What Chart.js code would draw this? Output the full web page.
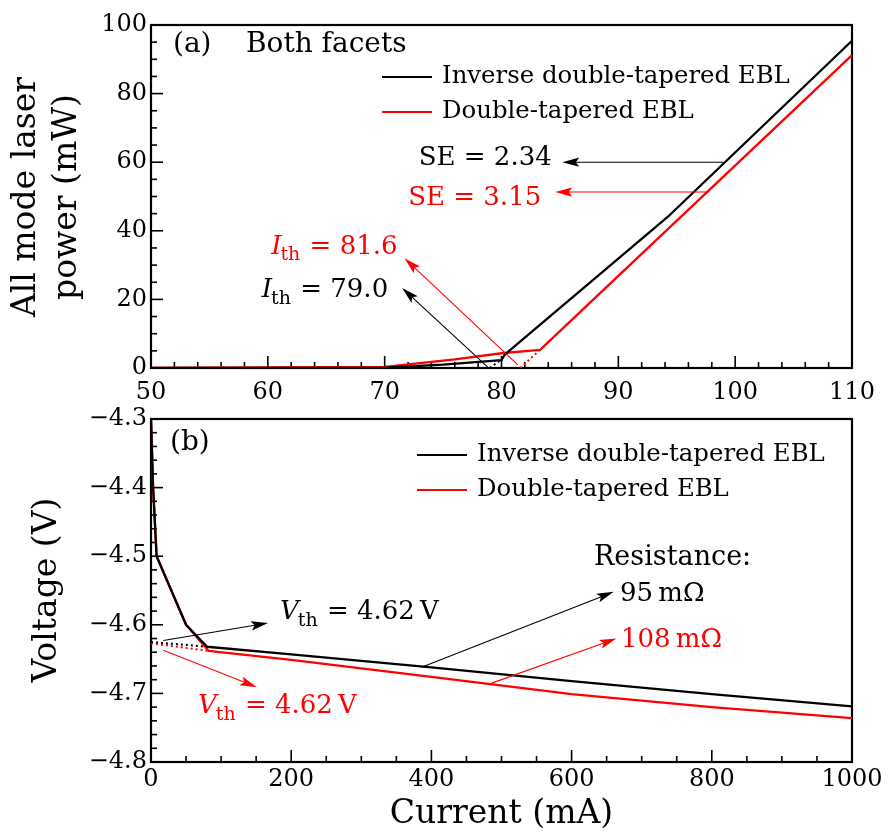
<!DOCTYPE html>
<html><head><meta charset="utf-8">
<script src="https://cdn.jsdelivr.net/npm/chart.js@4.4.1/dist/chart.umd.min.js"></script>
<style>
html,body{margin:0;padding:0;background:#fff;}
#wrap{position:relative;width:892px;height:838px;background:#fff;}
canvas{position:absolute;left:0;top:0;}
</style></head><body>
<div id="wrap"><canvas id="cb" width="892" height="838"></canvas><canvas id="ca" width="892" height="410"></canvas></div>
<script>
// ---------- data: panel (a) ----------
const seriesNames = ['Inverse double-tapered EBL', 'Double-tapered EBL'];
const aCurrentInverse = [50, 70, 75, 80, 80.3, 94.4, 110];
const aPowerInverse   = [0, 0.1, 1.0, 2.3, 4.0, 44.6, 95.4];
const aCurrentDouble  = [50, 70, 76, 80, 83.3, 110];
const aPowerDouble    = [0, 0.3, 2.5, 4.3, 5.3, 91.2];
const aFitCurrentInverse = [79.0, 80.0];
const aFitPowerInverse   = [0, 2.5];
const aFitCurrentDouble  = [81.6, 83.3];
const aFitPowerDouble    = [0, 5.3];
const aArrowsInverse = [[78.8, 0.3, 71.5, 23.3], [99.0, 60.0, 85.2, 60.0]];
const aArrowsDouble  = [[81.4, 0.9, 71.7, 32.0], [97.8, 51.3, 84.6, 51.3]];
const aThreshold = ['79.0', '81.6'];
const aSlope = ['2.34', '3.15'];

// ---------- data: panel (b) ----------
const bCurrentInverse = [0, 3, 8, 50, 80, 200, 400, 600, 800, 1000];
const bVoltInverse    = [-4.30, -4.40, -4.50, -4.60, -4.632, -4.643, -4.662, -4.682, -4.701, -4.719];
const bCurrentDouble  = [0, 3, 8, 50, 82, 200, 400, 600, 800, 1000];
const bVoltDouble     = [-4.30, -4.40, -4.50, -4.60, -4.638, -4.651, -4.676, -4.701, -4.720, -4.736];
const bFitCurrentInverse = [0, 80];
const bFitVoltInverse    = [-4.625, -4.632];
const bFitCurrentDouble  = [0, 82];
const bFitVoltDouble     = [-4.627, -4.638];
const bArrowsInverse = [[17.5, -4.623, 167, -4.5975], [386, -4.662, 660, -4.552]];
const bArrowsDouble  = [[17.5, -4.637, 151, -4.691], [486, -4.685, 664, -4.620]];
const bThreshold = ['4.62', '4.62'];
const bResistance = ['95', '108'];

// ---------- styling ----------
const FAM = "'DejaVu Serif'";
const BLACK = '#000000', RED = '#ff0000';
Chart.defaults.font.family = FAM;
Chart.defaults.color = '#000';
Chart.defaults.animation = false;

function pts(xs, ys) { return xs.map((x, i) => ({x: x, y: ys[i]})); }
function ds(xs, ys, color, width, dash) {
  return {data: pts(xs, ys), borderColor: color, borderWidth: width, borderDash: dash || [],
          pointRadius: 0, fill: false, tension: 0, borderJoinStyle: 'round'};
}

function drawFrameAndTicks(chart, xMajor, xMinor, yMajor, yMinor) {
  const {ctx, chartArea: {left, right, top, bottom}, scales: {x, y}} = chart;
  ctx.save();
  ctx.strokeStyle = '#000';
  ctx.lineWidth = 1.6;
  const nx = Math.round((x.max - x.min) / xMinor), kx = Math.round(xMajor / xMinor);
  for (let i = 0; i <= nx; i++) {
    const px = x.getPixelForValue(x.min + i * xMinor);
    const L = (i % kx === 0) ? 12 : 6;
    ctx.beginPath(); ctx.moveTo(px, bottom); ctx.lineTo(px, bottom - L); ctx.stroke();
  }
  const ny = Math.round((y.max - y.min) / yMinor), ky = Math.round(yMajor / yMinor);
  for (let i = 0; i <= ny; i++) {
    const py = y.getPixelForValue(y.min + i * yMinor);
    const L = (i % ky === 0) ? 12 : 6;
    ctx.beginPath(); ctx.moveTo(left, py); ctx.lineTo(left + L, py); ctx.stroke();
  }
  ctx.lineWidth = 2.2;
  ctx.strokeRect(left, top, right - left, bottom - top);
  ctx.restore();
}

function arrow(chart, a, color) {
  const {ctx, scales: {x, y}} = chart;
  const x1 = x.getPixelForValue(a[0]), y1 = y.getPixelForValue(a[1]);
  const x2 = x.getPixelForValue(a[2]), y2 = y.getPixelForValue(a[3]);
  const ang = Math.atan2(y2 - y1, x2 - x1);
  const len = 17, w = 4.6;
  const c = Math.cos(ang), s = Math.sin(ang);
  ctx.save();
  ctx.strokeStyle = color; ctx.fillStyle = color; ctx.lineWidth = 1.1;
  ctx.beginPath(); ctx.moveTo(x1, y1); ctx.lineTo(x2 - c * len * 0.7, y2 - s * len * 0.7); ctx.stroke();
  ctx.beginPath();
  ctx.moveTo(x2, y2);
  ctx.lineTo(x2 - c * len - s * w, y2 - s * len + c * w);
  ctx.lineTo(x2 - c * len * 0.8, y2 - s * len * 0.8);
  ctx.lineTo(x2 - c * len + s * w, y2 - s * len - c * w);
  ctx.closePath(); ctx.fill();
  ctx.restore();
}

function text(ctx, str, px, py, size, color, align) {
  ctx.save();
  ctx.font = size + 'px ' + FAM;
  ctx.fillStyle = color; ctx.textAlign = align || 'left'; ctx.textBaseline = 'middle';
  ctx.fillText(str, px, py);
  ctx.restore();
}

// italic symbol with subscript, followed by upright rest
function symText(ctx, sym, sub, rest, px, py, size, color, align) {
  ctx.save();
  ctx.fillStyle = color; ctx.textBaseline = 'middle'; ctx.textAlign = 'left';
  const fMain = 'italic ' + size + 'px ' + FAM;
  const fSub = Math.round(size * 0.72) + 'px ' + FAM;
  const fRest = size + 'px ' + FAM;
  ctx.font = fMain; const w1 = ctx.measureText(sym).width;
  ctx.font = fSub; const w2 = ctx.measureText(sub).width;
  ctx.font = fRest; const w3 = ctx.measureText(rest).width;
  let sx = align === 'right' ? px - (w1 + w2 + w3) : px;
  ctx.font = fMain; ctx.fillText(sym, sx, py);
  ctx.font = fSub; ctx.fillText(sub, sx + w1 - 1, py + size * 0.33);
  ctx.font = fRest; ctx.fillText(rest, sx + w1 + w2, py);
  ctx.restore();
}

function legend(ctx, x0, y0, dy, size) {
  const cols = [BLACK, RED];
  ctx.save();
  seriesNames.forEach((n, i) => {
    const yy = y0 + i * dy;
    ctx.strokeStyle = cols[i]; ctx.lineWidth = 2;
    ctx.beginPath(); ctx.moveTo(x0, yy); ctx.lineTo(x0 + 50, yy); ctx.stroke();
    text(ctx, n, x0 + 60, yy, size, '#000', 'left');
  });
  ctx.restore();
}

function vTitle(ctx, str, bx, cy, size) {
  ctx.save();
  ctx.translate(bx, cy); ctx.rotate(-Math.PI / 2);
  ctx.font = size + 'px ' + FAM; ctx.fillStyle = '#000';
  ctx.textAlign = 'center'; ctx.textBaseline = 'alphabetic';
  ctx.fillText(str, 0, 0);
  ctx.restore();
}

const noGrid = {display: false, drawTicks: false, tickLength: 0};

// ---------- chart (a) ----------
const plugA = {
  id: 'plugA',
  beforeDatasetsDraw(chart) { drawFrameAndTicks(chart, 10, 2, 20, 5); },
  afterDatasetsDraw(chart) {
    const {ctx, scales: {x, y}} = chart;
    aArrowsInverse.forEach(a => arrow(chart, a, BLACK));
    aArrowsDouble.forEach(a => arrow(chart, a, RED));
    text(ctx, '(a)', 173, 45, 28, '#000');
    text(ctx, 'Both facets', 246, 45, 28, '#000');
    legend(ctx, 382, 77, 35, 24.4);
    text(ctx, 'SE = ' + aSlope[0], x.getPixelForValue(84.3), y.getPixelForValue(61.2), 26, BLACK, 'right');
    text(ctx, 'SE = ' + aSlope[1], x.getPixelForValue(83.4), y.getPixelForValue(49.6), 26, RED, 'right');
    symText(ctx, 'I', 'th', ' = ' + aThreshold[1], x.getPixelForValue(71.1), y.getPixelForValue(35.3), 26, RED, 'right');
    symText(ctx, 'I', 'th', ' = ' + aThreshold[0], x.getPixelForValue(70.3), y.getPixelForValue(22.7), 26, BLACK, 'right');
    vTitle(ctx, 'All mode laser', 35, 197, 33);
    vTitle(ctx, 'power (mW)', 76, 197, 33);
  }
};

new Chart(document.getElementById('ca'), {
  type: 'line',
  data: {datasets: [
    ds(aCurrentInverse, aPowerInverse, BLACK, 2.3),
    ds(aCurrentDouble, aPowerDouble, RED, 2.3),
    ds(aFitCurrentInverse, aFitPowerInverse, BLACK, 2, [2, 3]),
    ds(aFitCurrentDouble, aFitPowerDouble, RED, 2, [2, 3])
  ]},
  options: {
    responsive: false, animation: false, events: [],
    layout: {padding: {top: 25, right: 40, bottom: 0, left: 0}},
    plugins: {legend: {display: false}, tooltip: {enabled: false}},
    scales: {
      x: {type: 'linear', min: 50, max: 110,
          ticks: {stepSize: 10, font: {family: FAM, size: 24}, color: '#000', padding: 10, maxRotation: 0, autoSkip: false,
                  callback: v => String(v)},
          grid: noGrid, border: {display: false},
          afterFit: s => { s.height = 42; }},
      y: {type: 'linear', min: 0, max: 100,
          ticks: {stepSize: 20, font: {family: FAM, size: 24}, color: '#000', padding: 4, callback: v => String(v)},
          grid: noGrid, border: {display: false},
          afterFit: s => { s.width = 151; }}
    }
  },
  plugins: [plugA]
});

// ---------- chart (b) ----------
const plugB = {
  id: 'plugB',
  beforeDatasetsDraw(chart) { drawFrameAndTicks(chart, 200, 50, 0.1, 0.02); },
  afterDatasetsDraw(chart) {
    const {ctx, scales: {x, y}} = chart;
    bArrowsInverse.forEach(a => arrow(chart, a, BLACK));
    bArrowsDouble.forEach(a => arrow(chart, a, RED));
    text(ctx, '(b)', 170, 443, 28, '#000');
    legend(ctx, 417, 455, 35, 24.4);
    symText(ctx, 'V', 'th', ' = ' + bThreshold[0] + '\u2009V', x.getPixelForValue(184), y.getPixelForValue(-4.582), 26, BLACK, 'left');
    symText(ctx, 'V', 'th', ' = ' + bThreshold[1] + '\u2009V', x.getPixelForValue(67), y.getPixelForValue(-4.7184), 26, RED, 'left');
    text(ctx, 'Resistance:', x.getPixelForValue(632), y.getPixelForValue(-4.503), 27, BLACK, 'left');
    text(ctx, bResistance[0] + '\u2009m\u03A9', x.getPixelForValue(669), y.getPixelForValue(-4.555), 26, BLACK, 'left');
    text(ctx, bResistance[1] + '\u2009m\u03A9', x.getPixelForValue(670.5), y.getPixelForValue(-4.623), 26, RED, 'left');
    vTitle(ctx, 'Voltage (V)', 56, 590, 33);
    ctx.save();
    ctx.font = '33px ' + FAM; ctx.fillStyle = '#000'; ctx.textAlign = 'center'; ctx.textBaseline = 'alphabetic';
    ctx.fillText('Current (mA)', (chart.chartArea.left + chart.chartArea.right) / 2, 823);
    ctx.restore();
  }
};

new Chart(document.getElementById('cb'), {
  type: 'line',
  data: {datasets: [
    ds(bCurrentInverse, bVoltInverse, BLACK, 2.3),
    ds(bCurrentDouble, bVoltDouble, RED, 2.3),
    ds(bFitCurrentInverse, bFitVoltInverse, BLACK, 2, [2, 3]),
    ds(bFitCurrentDouble, bFitVoltDouble, RED, 2, [2, 3])
  ]},
  options: {
    responsive: false, animation: false, events: [],
    layout: {padding: {top: 419, right: 40, bottom: 0, left: 0}},
    plugins: {legend: {display: false}, tooltip: {enabled: false}},
    scales: {
      x: {type: 'linear', min: 0, max: 1000,
          ticks: {stepSize: 200, font: {family: FAM, size: 24}, color: '#000', padding: 3, maxRotation: 0, autoSkip: false,
                  callback: v => String(v)},
          grid: noGrid, border: {display: false},
          afterFit: s => { s.height = 76; }},
      y: {type: 'linear', min: -4.8, max: -4.3,
          ticks: {stepSize: 0.1, font: {family: FAM, size: 24}, color: '#000', padding: 4,
                  callback: v => (v < 0 ? '\u2212' : '') + Math.abs(v).toFixed(1)},
          grid: noGrid, border: {display: false},
          afterFit: s => { s.width = 151; }}
    }
  },
  plugins: [plugB]
});
</script>
</body></html>
